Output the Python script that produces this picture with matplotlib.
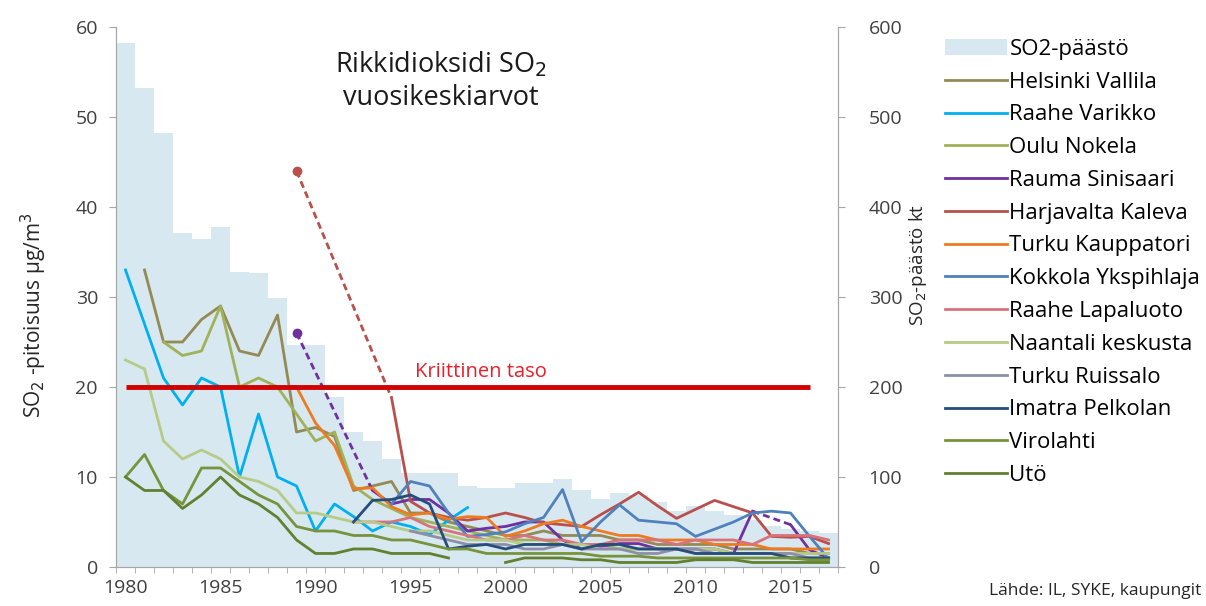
import numpy as np
import matplotlib.pyplot as plt
from matplotlib.patches import Patch
from matplotlib.lines import Line2D

plt.rcParams['font.family'] = ['Open Sans', 'DejaVu Sans']

N = None
years = list(range(1980, 2018))

# SO2 emissions, kt (right axis)
emission = [582, 532, 482, 371, 365, 378, 328, 327, 299, 247, 247, 189, 150, 140,
            120, 104, 104, 104, 90, 88, 88, 93, 93, 98, 85, 75, 82, 80, 72, 62,
            68, 62, 58, 52, 45, 42, 40, 38]

# annual mean concentrations, ug/m3 (left axis)
helsinki = [N, 33, 25, 25, 27.5, 29, 24, 23.5, 28, 15, 15.5, 14.5, 8.5, 9, 9.5, 6,
            6, 5, 4.5, 4, 3.5, 3.5, 4, 3.5, 3.5, 3.5, 3, 3, 2.5, 2.5, 2.5, 2.5, 2,
            2, 2, 2, 1.5, 1.5]
raahe_v = [33, 27, 21, 18, 21, 20, 10, 17, 10, 9, 4, 7, 5.6, 4, 5, 4.5, 3.6, 5.2,
           6.6] + [N] * 19
oulu = [N, N, 25, 23.5, 24, 29, 20, 21, 20, 17, 14, 15, 9, 7.5, 6.5, 5.5, 5, 4.5,
        4, 3.5, 3, 3, 3, 2.5, 2.5, 2.5, 2, 2, 2, 2, 1.5, 1.5, 1.5, 1.5, 1.5, 1, 1, 1]
rauma = [N] * 9 + [26, N, N, N, 8.5, 7, 7.5, 7.5, 6, 4, 4.3, 4.5, 5, 5, 3, 2, 2.3,
                   2.6, 2.6, 2, 2, 2, 2, 1.5, 6.2, N, 4.7, 1.9, 1]
harjavalta = [N] * 9 + [44, N, N, N, N, 18.8, 7.3, 6, 5.5, 5.2, 5.5, 6, 5.5, 4.9,
                        4.7, 4.5, 5.8, 7, 8.3, 6.8, 5.4, 6.4, 7.4, 6.7, 6, 3.4, 3.3,
                        3.4, 2.6]
turku_k = [N] * 9 + [20, 16, 13.5, 8.7, 8.8, 6.7, 5.8, 6, 5.3, 5.6, 5.5, 3.4, 4, 4.8,
                     5.2, 4.5, 4, 3.5, 3.5, 3, 3, 3, 2.5, 2.5, 2.5, 2, 2, 2, 2]
kokkola = [N] * 14 + [7, 9.5, 9, 6, 3.4, 3.6, 3.9, 4.8, 5.5, 8.6, 2.8, 5, 6.9, 5.2,
                      5, 4.8, 3.4, 4.2, 5, 6, 6.2, 6, 3.4, 0.9]
raahe_l = [N] * 12 + [5, 5, 5, 5.5, 4.5, 4, 3.5, 3, 3, 3.5, 3, 3, 2.5, 2.5, 3, 3, 3,
                      2.5, 3, 3, 3, 2.5, 3.5, 3.5, 3.5, 3]
naantali = [23, 22, 14, 12, 13, 12, 10, 9.5, 8.5, 6, 6, 5.5, 5, 5, 4.5, 4, 4, 3.5,
            3, 3, 3, 2.5, 2.5, 2.5, 2.5, 2, 2, 2, 2, 2, 2, 2, 1.5, 1.5, 1.5, 1.5,
            1.5, 1.5]
turku_r = [N] * 15 + [4, 3.5, 3, 2.5, 2.5, 2.5, 2, 2, 2.5, 2, 2, 2, 1.5, 1.5, 2, 2,
                      1.5, 1.5, 1.5, 1.5, 1.5, 1, 1]
imatra = [N] * 12 + [5, 7.4, 7.5, 8, 7, 2, 2.3, 2.5, 2, 2.5, 2.5, 2.5, 2, 2.5, 2.5,
                     2, 2, 2, 1.5, 1.5, 1.5, 1.5, 1.5, 1, 1, 1]
virolahti = [10, 12.5, 8.5, 7, 11, 11, 9.5, 8, 7, 4.5, 4, 4, 3.5, 3.5, 3, 3, 2.5, 2,
             2, 1.5, 1.5, 1.5, 1.5, 1.5, 1.5, 1.2, 1.2, 1.2, 1, 1, 1, 1, 1, 1, 1, 1,
             0.8, 0.8]
uto = [10, 8.5, 8.5, 6.5, 8, 10, 8, 7, 5.5, 3, 1.5, 1.5, 2, 2, 1.5, 1.5, 1.5, 1, N,
       N, 0.5, 1, 1, 1, 0.8, 0.8, 0.5, 0.5, 0.5, 0.5, 0.8, 0.8, 0.8, 0.5, 0.5, 0.5,
       0.5, 0.5]

crit_years = [1980, 2016]
crit_level = [20, 20]

series = [
    ('Helsinki Vallila', helsinki, '#948A54', False),
    ('Raahe Varikko', raahe_v, '#00B0F0', False),
    ('Oulu Nokela', oulu, '#9FB25A', False),
    ('Rauma Sinisaari', rauma, '#7030A0', True),
    ('Harjavalta Kaleva', harjavalta, '#B9504C', True),
    ('Turku Kauppatori', turku_k, '#EE7A22', False),
    ('Kokkola Ykspihlaja', kokkola, '#4F81BD', False),
    ('Raahe Lapaluoto', raahe_l, '#D9737B', False),
    ('Naantali keskusta', naantali, '#B5CB86', False),
    ('Turku Ruissalo', turku_r, '#8E8EA8', False),
    ('Imatra Pelkolan', imatra, '#254E7A', False),
    ('Virolahti', virolahti, '#77933C', False),
    ('Utö', uto, '#63802E', False),
]

fig = plt.figure(figsize=(12.06, 6.06), dpi=100)
ax = fig.add_axes([0.0962, 0.0644, 0.5987, 0.891])
ax2 = ax.twinx()
ax.set_zorder(ax2.get_zorder() + 1)
ax.patch.set_visible(False)

x = np.array(years)
ax2.bar(x, emission, width=1.0, color='#D8E8F1', edgecolor='none')

handles = [Patch(facecolor='#D8E8F1', edgecolor='none', label='SO2-päästö')]
for name, vals, col, bridge in series:
    y = np.array([np.nan if v is None else v for v in vals], dtype=float)
    ax.plot(x, y, color=col, lw=2.0)
    if bridge:
        # missing years bridged with a dashed segment
        ok = np.where(~np.isnan(y))[0]
        for a, b in zip(ok[:-1], ok[1:]):
            if b - a > 1:
                ax.plot([x[a], x[b]], [y[a], y[b]], color=col, lw=2.0, ls=(0, (2.5, 1.5)))
        first = ok[0]
        if np.isnan(y[first + 1]):
            ax.plot(x[first], y[first], 'o', color=col, ms=6)
    handles.append(Line2D([], [], color=col, lw=2.0, label=name))

ax.plot(crit_years, crit_level, color='#D00000', lw=3.5, solid_capstyle='butt')
ax.text(1998.7, 20.5, 'Kriittinen taso', color='#E8202A', fontsize=14.5, ha='center', va='bottom')

ax.text(1996.6, 57.5, 'Rikkidioksidi SO$_2$\nvuosikeskiarvot', fontsize=19.5, ha='center',
        va='top', color='#1A1A1A', linespacing=1.25)

ax.set_xlim(1979.5, 2017.5)
ax.set_ylim(0, 60)
ax2.set_ylim(0, 600)
ax.set_yticks(range(0, 61, 10))
ax2.set_yticks(range(0, 601, 100))
ax.set_xticks(range(1980, 2016, 5))
ax.set_xticks(np.arange(1979.5, 2017.6, 1), minor=True)

for a in (ax, ax2):
    a.spines['top'].set_visible(False)
    for s in ('left', 'right', 'bottom'):
        a.spines[s].set_color('#A6A6A6')
    a.tick_params(colors='#404040', labelsize=14)
ax.tick_params(axis='x', which='major', length=0, pad=9)
ax.tick_params(axis='x', which='minor', length=4, color='#A6A6A6')
ax.tick_params(axis='y', length=5, color='#A6A6A6', pad=8)
ax2.tick_params(axis='y', length=5, color='#A6A6A6', pad=17)

ax.set_ylabel('SO$_2$ -pitoisuus µg/m$^3$', fontsize=15, color='#262626')
ax.yaxis.set_label_coords(-0.093, 0.467)
ax2.set_ylabel('SO$_2$-päästö kt', fontsize=13.5, color='#262626')
ax2.yaxis.set_label_coords(1.096, 0.56)

fig.legend(handles=handles, loc='upper left', bbox_to_anchor=(0.7836, 0.936),
           frameon=False, fontsize=16, handlelength=2.8, handletextpad=0.1,
           labelspacing=0.53, borderaxespad=0, borderpad=0)
fig.text(0.996, 0.012, 'Lähde: IL, SYKE, kaupungit', ha='right', va='bottom',
         fontsize=12.5, color='#262626')

fig.savefig('out.png', dpi=100)
